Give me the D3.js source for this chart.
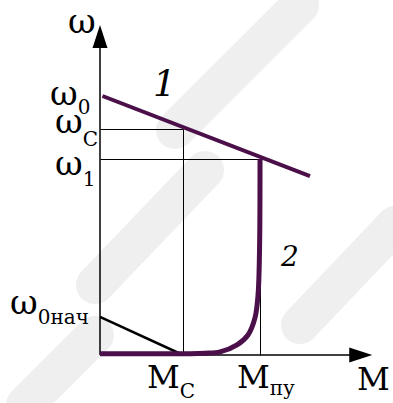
<!DOCTYPE html>
<html>
<head>
<meta charset="utf-8">
<script src="https://cdn.jsdelivr.net/npm/d3@7"></script>
<style>
body { margin: 0; background: #fff; }
</style>
</head>
<body>
<script>
var w = 393;
var h = 403;
var purple = "#4b0f49";
var serif = "DejaVu Serif";

// characteristic 1: straight line, M vs omega (omega0 = 1, Mc = 1)
var line1M = [0.03, 2.53];
var line1W = [1.0, 0.691];

// characteristic 2: curve ending at M_pu
var curve2M = [0, 1.084, 1.265, 1.446, 1.651, 1.783, 1.867, 1.904, 1.922, 1.928];
var curve2W = [0.005, 0.005, 0.007, 0.012, 0.039, 0.077, 0.143, 0.232, 0.405, 0.757];

// starting line omega0nach -> Mc
var startM = [0, 1.0];
var startW = [0.147, 0.0];

// guide points
var Mc = 1.0, Mpu = 1.928;
var wC = 0.873, w1 = 0.757;

// axis labels
var yLabels = [
    { main: "ω", sub: "0", value: 1.0 },
    { main: "ω", sub: "C", value: wC },
    { main: "ω", sub: "1", value: w1 },
    { main: "ω", sub: "0нач", value: 0.147 }
];
var xLabels = [
    { main: "M", sub: "C", value: Mc },
    { main: "M", sub: "пу", value: Mpu }
];

var xScale = d3.scaleLinear().domain([0, 1]).range([100, 183]);
var yScale = d3.scaleLinear().domain([0, 1]).range([355, 96]);

var svg = d3.select("body")
    .append("svg")
    .attr("width", w)
    .attr("height", h);

// faint watermark bands in the background
var marks = [
    [[300, 5], [175, 130]],
    [[205, 170], [95, 285]],
    [[95, 335], [25, 405]],
    [[395, 225], [300, 325]]
];
svg.selectAll("line.wm")
    .data(marks)
    .enter()
    .append("line")
    .attr("class", "wm")
    .attr("x1", function(d) { return d[0][0]; })
    .attr("y1", function(d) { return d[0][1]; })
    .attr("x2", function(d) { return d[1][0]; })
    .attr("y2", function(d) { return d[1][1]; })
    .attr("stroke", "#efefef")
    .attr("stroke-width", 38)
    .attr("stroke-linecap", "round");

// thin guide lines
var guides = [
    [[0, wC], [Mc, wC]],
    [[Mc, wC], [Mc, 0]],
    [[0, w1], [Mpu, w1]],
    [[Mpu, w1], [Mpu, 0]]
];
svg.selectAll("line.guide")
    .data(guides)
    .enter()
    .append("line")
    .attr("class", "guide")
    .attr("x1", function(d) { return Math.round(xScale(d[0][0])) + 0.5; })
    .attr("y1", function(d) { return Math.round(yScale(d[0][1])) + 0.5; })
    .attr("x2", function(d) { return Math.round(xScale(d[1][0])) + 0.5; })
    .attr("y2", function(d) { return Math.round(yScale(d[1][1])) + 0.5; })
    .attr("stroke", "#000")
    .attr("stroke-width", 1);

// axes
var xMax = 3.28, yMax = 1.274;
svg.append("line")
    .attr("x1", xScale(0)).attr("y1", yScale(0))
    .attr("x2", xScale(xMax) - 20).attr("y2", yScale(0))
    .attr("stroke", "#000").attr("stroke-width", 1.5);
svg.append("line")
    .attr("x1", xScale(0)).attr("y1", yScale(0))
    .attr("x2", xScale(0)).attr("y2", yScale(yMax) + 20)
    .attr("stroke", "#000").attr("stroke-width", 1.5);

// arrow heads
var ax = xScale(xMax), ay = yScale(0);
svg.append("path")
    .attr("d", "M" + ax + "," + ay + "L" + (ax - 23) + "," + (ay - 7.5) + "L" + (ax - 23) + "," + (ay + 7.5) + "Z")
    .attr("fill", "#000");
var bx = xScale(0), by = yScale(yMax);
svg.append("path")
    .attr("d", "M" + bx + "," + by + "L" + (bx - 7.5) + "," + (by + 23) + "L" + (bx + 7.5) + "," + (by + 23) + "Z")
    .attr("fill", "#000");

var lineGen = d3.line()
    .x(function(d) { return xScale(d[0]); })
    .y(function(d) { return yScale(d[1]); });

// start line (black)
svg.append("path")
    .attr("d", lineGen(d3.zip(startM, startW)))
    .attr("fill", "none")
    .attr("stroke", "#000")
    .attr("stroke-width", 2.5);

// characteristic 1
svg.append("path")
    .attr("d", lineGen(d3.zip(line1M, line1W)))
    .attr("fill", "none")
    .attr("stroke", purple)
    .attr("stroke-width", 4);

// characteristic 2
svg.append("path")
    .attr("d", lineGen.curve(d3.curveCatmullRom)(d3.zip(curve2M, curve2W)))
    .attr("fill", "none")
    .attr("stroke", purple)
    .attr("stroke-width", 5);

// y labels
var yPos = [[50, 105, 114], [55, 133, 146], [55, 175, 186], [10, 314, 324]];
yLabels.forEach(function(d, i) {
    var t = svg.append("text")
        .attr("x", yPos[i][0])
        .attr("y", yPos[i][1])
        .style("font-family", serif)
        .style("font-size", "34px");
    t.append("tspan").text(d.main);
    t.append("tspan")
        .attr("y", yPos[i][2])
        .style("font-size", "20px")
        .text(d.sub);
});

// x labels
var xPos = [[147, 388, 398], [237, 388, 395]];
xLabels.forEach(function(d, i) {
    var t = svg.append("text")
        .attr("x", xPos[i][0])
        .attr("y", xPos[i][1])
        .style("font-family", serif)
        .style("font-size", "32px");
    t.append("tspan").text(d.main);
    t.append("tspan")
        .attr("y", xPos[i][2])
        .style("font-size", "20px")
        .text(d.sub);
});

// axis names
svg.append("text").attr("x", 68).attr("y", 33)
    .style("font-family", serif).style("font-size", "34px").text("ω");
svg.append("text").attr("x", 357).attr("y", 390)
    .style("font-family", serif).style("font-size", "32px").text("M");

// curve numbers
svg.append("text").attr("x", 153).attr("y", 96)
    .style("font-family", serif).style("font-size", "36px").style("font-style", "italic").text("1");
svg.append("text").attr("x", 281).attr("y", 266)
    .style("font-family", serif).style("font-size", "28px").style("font-style", "italic").text("2");
</script>
</body>
</html>
